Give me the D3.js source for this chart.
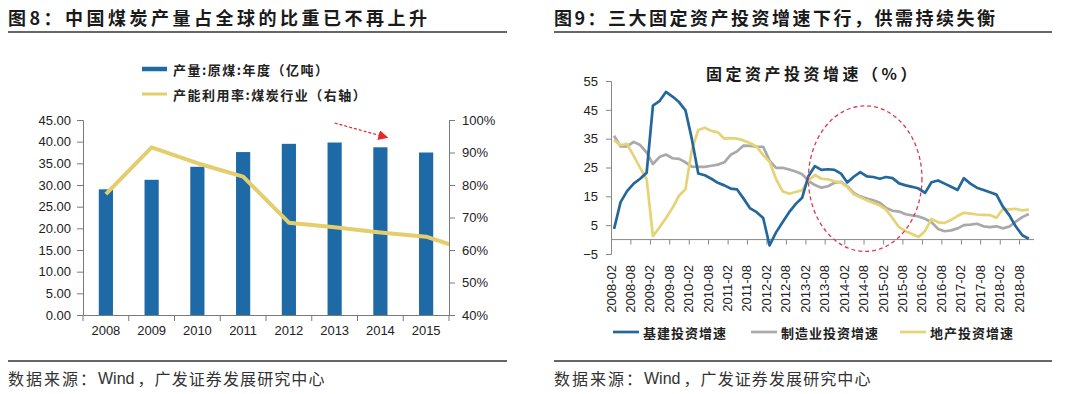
<!DOCTYPE html>
<html>
<head>
<meta charset="utf-8">
<script src="https://cdn.jsdelivr.net/npm/d3@7"></script>
<style>
  body { margin: 0; background: #fff; }
  svg { display: block; font-family: "Liberation Sans", Arial, sans-serif; }
  .cjk { font-family: "Noto Sans CJK SC", sans-serif; }
</style>
</head>
<body>
<svg id="chart" width="1080" height="394"></svg>
<script>
// ---- 图8 data ----
var years = ["2008", "2009", "2010", "2011", "2012", "2013", "2014", "2015"];
var coalOutput = [29.0, 31.2, 34.2, 37.6, 39.5, 39.8, 38.7, 37.5];
// utilisation line runs on past 2015 and is cut off at the right axis
var utilYears = ["2008", "2009", "2010", "2011", "2012", "2013", "2014", "2015", "2016"];
var utilRate = [77.2, 91.6, 86.7, 82.6, 68.4, 67.0, 65.4, 64.1, 59.5];
var leftTicks = [0, 5, 10, 15, 20, 25, 30, 35, 40, 45];
var rightTicks = [40, 50, 60, 70, 80, 90, 100];

// ---- 图9 data (every second month, 2008-02 .. 2018-12) ----
var firstMonth = "2008-02", lastMonth = "2018-12";
var infra = [3.7, 13, 16.8, 19.4, 21.1, 23.2, 46.5, 48, 51.2, 49.6, 47.7, 44.8,
  35, 22.9, 22.3, 21.1, 19.7, 18.8, 17.7, 17.4, 14.2, 10.8, 9.5, 7.5,
  -2, 2.5, 6, 9.5, 12.3, 14.5, 22, 25.5, 24.2, 24.4, 24.2, 22.9,
  19.8, 21.8, 23.4, 21.9, 21.7, 21.1, 21.7, 21.3, 19.5, 18.8, 18.3, 17.7,
  16.2, 19.9, 20.5, 19.4, 18.3, 17.2, 21.3, 19.4, 18, 17.2, 16.4, 15.6,
  11.5, 8.5, 4.6, 1.5, 0.3, 1.6];
var manu = [36, 32.3, 32.3, 33.9, 32.8, 30.2, 26.2, 28.6, 29.5, 28.2, 28, 26.8,
  25.3, 25.2, 25.2, 25.6, 26, 26.8, 29.4, 30.6, 32.6, 32.5, 32.2, 32.2,
  27.4, 24.9, 24.9, 24.3, 23.6, 22.7, 20.4, 18.9, 18, 18.5, 19.7, 20,
  18.5, 16.2, 15, 14.2, 13.6, 12.8, 11, 10, 9.7, 8.8, 8.4, 8,
  7.2, 6, 3.7, 2.9, 3.2, 3.9, 5, 5.2, 5.5, 4.6, 4.3, 4.6,
  3.9, 4.5, 6.2, 7.8, 8.9, 9.7];
var estate = [34.5, 32.7, 33.2, 29, 24.9, 21, 1.2, 4.2, 7.4, 11, 15.2, 17.5,
  31, 38, 38.8, 37.7, 37.2, 35, 35.2, 35, 34.4, 33.4, 32.2, 29.3,
  27, 21, 16.8, 15.9, 16.5, 17.1, 20.5, 22.4, 21.1, 20.9, 20.2, 19.8,
  18.2, 15.7, 14.7, 13.6, 12.8, 11.8, 10.4, 7.4, 4.3, 2.9, 1.9, 0.9,
  3, 7.2, 6, 5.8, 6.8, 8.2, 9.3, 9, 8.7, 8.6, 8.5, 7.6,
  10.5, 10.5, 10.7, 10.1, 10.4, 9.8];
var seriesNames = ["基建投资增速", "制造业投资增速", "地产投资增速"];
var yTicks9 = [-5, 5, 15, 25, 35, 45, 55];
var xTickLabels9 = ["2008-02", "2008-08", "2009-02", "2009-08", "2010-02", "2010-08",
  "2011-02", "2011-08", "2012-02", "2012-08", "2013-02", "2013-08", "2014-02", "2014-08",
  "2015-02", "2015-08", "2016-02", "2016-08", "2017-02", "2017-08", "2018-02", "2018-08"];
// dashed ellipse marks 2013-03 .. 2016-02
var ringMonths = ["2013-03", "2016-02"], ringValues = [-4.1, 46.4];

var svg = d3.select("#chart");
var parse = d3.timeParse("%Y-%m");

// ---------- headers and footers ----------
function header(x0, x1, label, spacing) {
  svg.append("text").attr("class", "cjk")
    .attr("x", x0).attr("y", 17).attr("dominant-baseline", "central")
    .attr("font-size", 18).attr("font-weight", 700).attr("letter-spacing", spacing)
    .attr("fill", "#1a1a1a").text(label);
  svg.append("line").attr("x1", x0).attr("x2", x1).attr("y1", 32).attr("y2", 32)
    .attr("stroke", "#333").attr("stroke-width", 1.5);
}
function footer(x0, x1) {
  svg.append("line").attr("x1", x0).attr("x2", x1).attr("y1", 361).attr("y2", 361)
    .attr("stroke", "#333").attr("stroke-width", 1.5);
  var t = svg.append("text").attr("class", "cjk")
    .attr("x", x0).attr("y", 378).attr("dominant-baseline", "central")
    .attr("font-size", 16).attr("fill", "#333");
  t.append("tspan").attr("letter-spacing", 2).text("数据来源：");
  t.append("tspan").attr("font-family", "'Liberation Sans', Arial, sans-serif").text("Wind");
  t.append("tspan").attr("dx", 3).attr("letter-spacing", 1.1).text("，广发证券发展研究中心");
}
header(8, 507, "图8：中国煤炭产量占全球的比重已不再上升", 3.5);
header(554, 1052, "图9：三大固定资产投资增速下行，供需持续失衡", 2.5);
footer(8, 507);
footer(554, 1052);

// ---------- 图8 ----------
var x8 = d3.scaleBand().domain(years).range([83, 449]).paddingInner(0.69).paddingOuter(0.345);
var yL = d3.scaleLinear().domain([0, 45]).range([315, 120]);
var yR = d3.scaleLinear().domain([40, 100]).range([315, 120]);
var mid8 = function(yr) {
  var i = utilYears.indexOf(yr);
  return x8(years[0]) + i * x8.step() + x8.bandwidth() / 2;
};

var g8 = svg.append("g");

g8.selectAll("rect.bar").data(coalOutput).enter().append("rect")
  .attr("class", "bar")
  .attr("x", function(d, i) { return x8(years[i]); })
  .attr("width", x8.bandwidth())
  .attr("y", function(d) { return yL(d); })
  .attr("height", function(d) { return yL(0) - yL(d); })
  .attr("fill", "#1d6aa6");

svg.append("clipPath").attr("id", "clip8").append("rect")
  .attr("x", 83).attr("y", 100).attr("width", 366).attr("height", 230);

var utilLine = d3.line()
  .x(function(d, i) { return mid8(utilYears[i]); })
  .y(function(d) { return yR(d); });
g8.append("path").datum(utilRate)
  .attr("clip-path", "url(#clip8)")
  .attr("fill", "none").attr("stroke", "#e3cd6c").attr("stroke-width", 4)
  .attr("stroke-linejoin", "round")
  .attr("d", utilLine);

// axes
var axL = g8.append("g").attr("transform", "translate(83,0)")
  .call(d3.axisLeft(yL).tickValues(leftTicks).tickSize(6).tickPadding(6).tickFormat(d3.format(".2f")));
var axR = g8.append("g").attr("transform", "translate(449,0)")
  .call(d3.axisRight(yR).tickValues(rightTicks).tickSize(6).tickPadding(7).tickFormat(function(d) { return d + "%"; }));
var axB = g8.append("g").attr("transform", "translate(0,315)")
  .call(d3.axisBottom(x8).tickSize(0).tickPadding(11));
axB.selectAll(".tick").attr("transform", function(d) { return "translate(" + mid8(d) + ",0)"; });
// category separators on the x axis
g8.append("g").selectAll("line").data(d3.range(years.length + 1)).enter().append("line")
  .attr("x1", function(i) { return x8(years[0]) - x8.step() * 0.345 + i * x8.step(); })
  .attr("x2", function(i) { return x8(years[0]) - x8.step() * 0.345 + i * x8.step(); })
  .attr("y1", 315).attr("y2", 321).attr("stroke", "#7a7a7a");
[axL, axR, axB].forEach(function(a) {
  a.selectAll("path.domain").attr("stroke", "#7a7a7a");
  a.selectAll(".tick line").attr("stroke", "#7a7a7a");
  a.selectAll("text").attr("font-size", 13).attr("fill", "#222")
    .attr("font-family", "'Liberation Sans', Arial, sans-serif");
});

// legend
var leg8 = [
  { label: "产量:原煤:年度（亿吨）", color: "#1d6aa6", w: 4.5, y: 69 },
  { label: "产能利用率:煤炭行业（右轴）", color: "#e3cd6c", w: 3, y: 94 }
];
leg8.forEach(function(l) {
  svg.append("line").attr("x1", 142).attr("x2", 167).attr("y1", l.y).attr("y2", l.y)
    .attr("stroke", l.color).attr("stroke-width", l.w);
  svg.append("text").attr("class", "cjk").attr("x", 173).attr("y", l.y)
    .attr("dominant-baseline", "central").attr("font-size", 13).attr("font-weight", 700)
    .attr("letter-spacing", 1.5).attr("fill", "#222").text(l.label);
});

// red dashed arrow above the 2013-2014 bars
svg.append("defs").append("marker").attr("id", "arrowRed")
  .attr("viewBox", "0 0 10 10").attr("refX", 8).attr("refY", 5)
  .attr("markerWidth", 10).attr("markerHeight", 10).attr("markerUnits", "userSpaceOnUse")
  .attr("orient", "auto")
  .append("path").attr("d", "M0,0L10,5L0,10z").attr("fill", "#e8262a");
svg.append("line")
  .attr("x1", mid8("2013")).attr("y1", yL(44.3))
  .attr("x2", mid8("2014") + 6).attr("y2", yL(41.0))
  .attr("stroke", "#e8262a").attr("stroke-width", 1.2).attr("stroke-dasharray", "3,2")
  .attr("marker-end", "url(#arrowRed)");

// ---------- 图9 ----------
var months = d3.timeMonth.every(2).range(parse(firstMonth), d3.timeMonth.offset(parse(lastMonth), 1));
var x9 = d3.scaleTime().domain([parse(firstMonth), parse(lastMonth)]).range([611, 1032]);
var y9 = d3.scaleLinear().domain([-5, 55]).range([254, 81]);
var g9 = svg.append("g");

svg.append("text").attr("class", "cjk")
  .attr("x", 813).attr("y", 73).attr("text-anchor", "middle").attr("dominant-baseline", "central")
  .attr("font-size", 16).attr("font-weight", 700).attr("letter-spacing", 3.5).attr("fill", "#1a1a1a")
  .text("固定资产投资增速（%）");

var axY9 = g9.append("g").attr("transform", "translate(611,0)")
  .call(d3.axisLeft(y9).tickValues(yTicks9).tickSize(5).tickPadding(8));
axY9.selectAll("path.domain").attr("stroke", "#888");
axY9.selectAll(".tick line").attr("stroke", "#888");
axY9.selectAll("text").attr("font-size", 13).attr("fill", "#222")
  .attr("font-family", "'Liberation Sans', Arial, sans-serif");

// x axis sits at zero
var axX9 = g9.append("g").attr("transform", "translate(0," + y9(0) + ")")
  .call(d3.axisBottom(x9).tickValues(xTickLabels9.map(parse)).tickSize(5).tickFormat(""));
axX9.selectAll("path.domain").attr("stroke", "#888")
  .attr("d", "M" + x9.range()[0] + ",0H" + (x9.range()[1] + 2));
axX9.selectAll(".tick line").attr("stroke", "#888");

g9.append("g").selectAll("text").data(xTickLabels9).enter().append("text")
  .attr("transform", function(d) { return "translate(" + x9(parse(d)) + ",265) rotate(-90)"; })
  .attr("text-anchor", "end").attr("dominant-baseline", "central")
  .attr("font-size", 13).attr("fill", "#222").text(function(d) { return d; });

var series9 = [
  { values: manu, color: "#a9a9a9" },
  { values: estate, color: "#e6d375" },
  { values: infra, color: "#23679c" }
];
var line9 = d3.line()
  .x(function(d, i) { return x9(months[i]); })
  .y(function(d) { return y9(d); });
series9.forEach(function(s) {
  g9.append("path").datum(s.values)
    .attr("fill", "none").attr("stroke", s.color).attr("stroke-width", 2.7)
    .attr("stroke-linejoin", "round").attr("d", line9);
});

// dashed ellipse annotation
var rx0 = x9(parse(ringMonths[0])), rx1 = x9(parse(ringMonths[1]));
var ry0 = y9(ringValues[1]), ry1 = y9(ringValues[0]);
g9.append("ellipse")
  .attr("cx", (rx0 + rx1) / 2).attr("cy", (ry0 + ry1) / 2)
  .attr("rx", (rx1 - rx0) / 2).attr("ry", (ry1 - ry0) / 2)
  .attr("fill", "none").attr("stroke", "#d93a52").attr("stroke-width", 1.3)
  .attr("stroke-dasharray", "4,3");

// legend
var leg9 = [
  { x: 613, color: "#23679c" },
  { x: 751, color: "#a9a9a9" },
  { x: 900, color: "#e6d375" }
];
leg9.forEach(function(l, i) {
  svg.append("line").attr("x1", l.x).attr("x2", l.x + 26).attr("y1", 332).attr("y2", 332)
    .attr("stroke", l.color).attr("stroke-width", 2.7);
  svg.append("text").attr("class", "cjk").attr("x", l.x + 30).attr("y", 332)
    .attr("dominant-baseline", "central").attr("font-size", 13).attr("font-weight", 700)
    .attr("letter-spacing", 1).attr("fill", "#222").text(seriesNames[i]);
});
</script>
</body>
</html>
